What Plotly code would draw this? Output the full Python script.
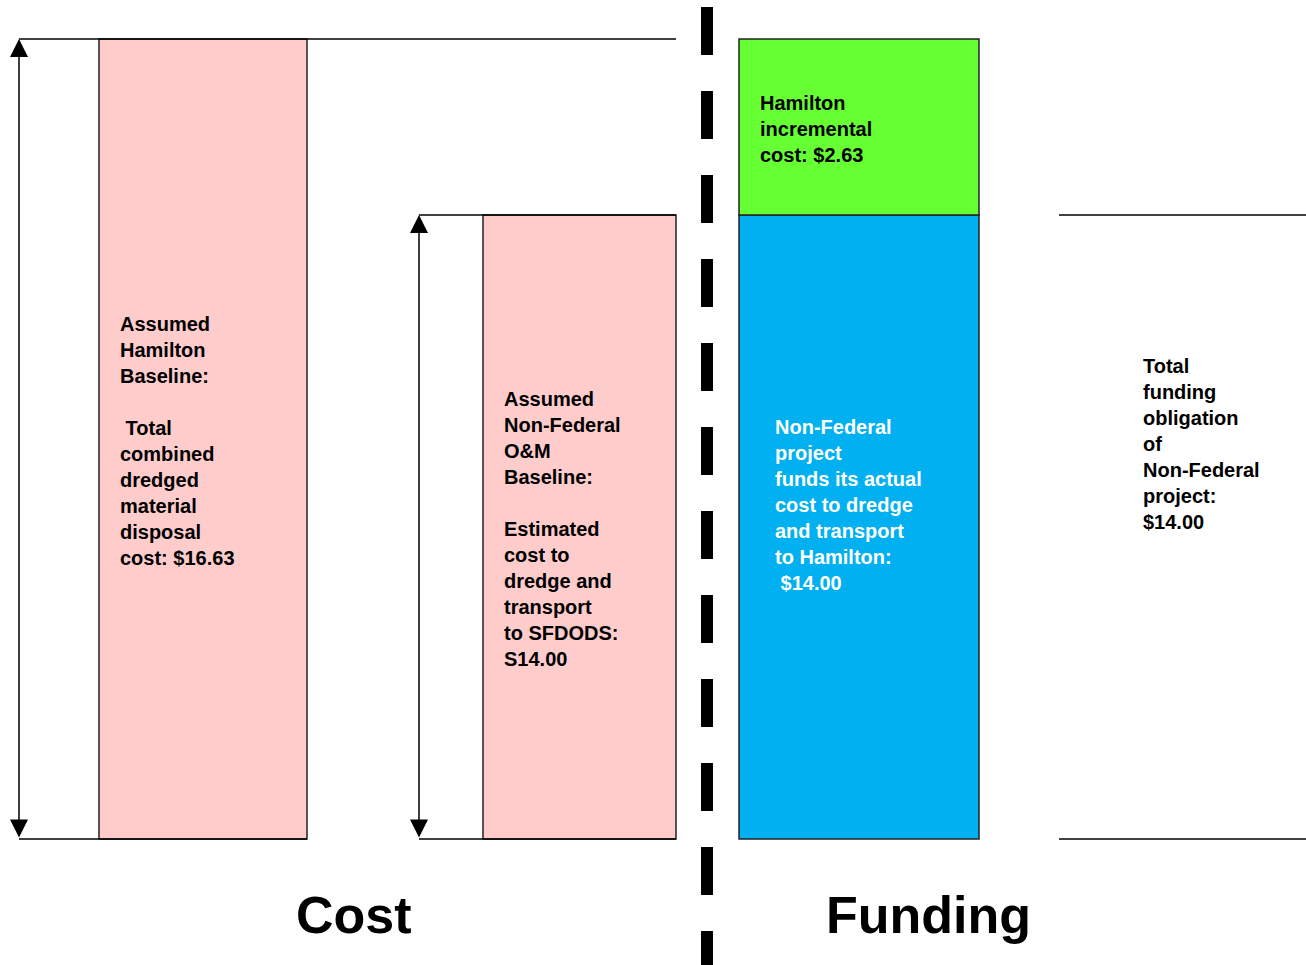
import plotly.graph_objects as go

# ---------------- data ----------------
cost_categories = ["Assumed Hamilton Baseline", "Assumed Non-Federal O&M Baseline"]
cost_values = [16.63, 14.00]          # dollars, as labelled
cost_heights = [100, 78]              # drawn heights (relative, tallest = 100)

funding_parts = ["Non-Federal project", "Hamilton incremental"]
funding_values = [14.00, 2.63]        # dollars, as labelled
funding_heights = [78, 22]            # drawn heights (stacked)

section_labels = ["Cost", "Funding"]

# ---------------- layout helpers ----------------
W, H = 1306, 965
PX_PER_UNIT = 8.0
BASE_PX = 839.0


def ypx(p):
    """convert a pixel row into y-axis units"""
    return (BASE_PX - p) / PX_PER_UNIT


cost_x = [203, 579.5]
cost_w = [208, 193]
fund_x = 859
fund_w = 240

PINK = "#FFCCCC"
GREEN = "#66FF33"
BLUE = "#00B0F0"
OUT = "#222222"
FONT = "Liberation Sans, Arial, sans-serif"

fig = go.Figure()

fig.add_trace(go.Bar(
    x=cost_x, y=cost_heights, width=cost_w, base=[0, 0],
    marker=dict(color=PINK, line=dict(color=OUT, width=1.5)),
    name="Cost", hoverinfo="skip",
))
fig.add_trace(go.Bar(
    x=[fund_x], y=[funding_heights[0]], width=[fund_w], base=[0],
    marker=dict(color=BLUE, line=dict(color=OUT, width=1.5)),
    name=funding_parts[0], hoverinfo="skip",
))
fig.add_trace(go.Bar(
    x=[fund_x], y=[funding_heights[1]], width=[fund_w], base=[funding_heights[0]],
    marker=dict(color=GREEN, line=dict(color=OUT, width=1.5)),
    name=funding_parts[1], hoverinfo="skip",
))

shapes = []
lw = 1.6
# reference lines
shapes.append(dict(type="line", xref="x", yref="y", x0=19, x1=676,
                   y0=cost_heights[0], y1=cost_heights[0], line=dict(color="black", width=lw)))
shapes.append(dict(type="line", xref="x", yref="y", x0=19, x1=cost_x[0] + cost_w[0] / 2,
                   y0=0, y1=0, line=dict(color="black", width=lw)))
shapes.append(dict(type="line", xref="x", yref="y", x0=419, x1=676,
                   y0=0, y1=0, line=dict(color="black", width=lw)))
shapes.append(dict(type="line", xref="x", yref="y", x0=419, x1=676,
                   y0=cost_heights[1], y1=cost_heights[1], line=dict(color="black", width=lw)))
shapes.append(dict(type="line", xref="x", yref="y", x0=1059, x1=1306,
                   y0=funding_heights[0], y1=funding_heights[0], line=dict(color="black", width=lw)))
shapes.append(dict(type="line", xref="x", yref="y", x0=1059, x1=1306,
                   y0=0, y1=0, line=dict(color="black", width=lw)))
# dashed separator
shapes.append(dict(type="line", xref="x", yref="y", x0=707, x1=707,
                   y0=ypx(7), y1=ypx(H), line=dict(color="black", width=12, dash="48px,36px")))

annotations = []
# double-headed arrows
for ax_x, top in [(19, cost_heights[0]), (419, cost_heights[1])]:
    annotations.append(dict(
        x=ax_x, y=top, ax=ax_x, ay=0, xref="x", yref="y", axref="x", ayref="y",
        text="", showarrow=True, arrowside="end+start",
        arrowhead=2, startarrowhead=2, arrowsize=2.4, startarrowsize=2.4,
        arrowwidth=1.5, arrowcolor="black", standoff=0, startstandoff=0,
    ))

NB = "\u00a0"
body_font = dict(family=FONT, size=20, color="black", weight="bold")

texts = [
    (118, ypx(440.5),
     "Assumed<br>Hamilton<br>Baseline:<br><br>" + NB + "Total<br>combined<br>dredged<br>material<br>disposal<br>"
     f"cost: ${cost_values[0]:.2f}", "black"),
    (502, ypx(528.5),
     "Assumed<br>Non-Federal<br>O&M<br>Baseline:<br><br>Estimated<br>cost to<br>dredge and<br>transport<br>"
     f"to SFDODS:<br>S{cost_values[1]:.2f}", "black"),
    (758, ypx(128.5),
     f"Hamilton<br>incremental<br>cost: ${funding_values[1]:.2f}", "black"),
    (773, ypx(504.5),
     "Non-Federal<br>project<br>funds its actual<br>cost to dredge<br>and transport<br>to Hamilton:<br>"
     + NB + f"${funding_values[0]:.2f}", "white"),
    (1141, ypx(444),
     "Total<br>funding<br>obligation<br>of<br>Non-Federal<br>project:<br>"
     f"${funding_values[0]:.2f}", "black"),
]
for x, y, t, c in texts:
    f = dict(body_font)
    f["color"] = c
    annotations.append(dict(x=x, y=y, xref="x", yref="y", text=t, showarrow=False,
                            xanchor="left", yanchor="middle", align="left", font=f))

for x, lab in zip([354, 928], section_labels):
    annotations.append(dict(x=x, y=ypx(915), xref="x", yref="y", text=lab, showarrow=False,
                            xanchor="center", yanchor="middle",
                            font=dict(family=FONT, size=52, color="black", weight="bold")))

fig.update_layout(
    width=W, height=H,
    margin=dict(l=0, r=0, t=0, b=0, pad=0),
    paper_bgcolor="white", plot_bgcolor="white",
    barmode="overlay", showlegend=False,
    xaxis=dict(range=[0, W], visible=False, fixedrange=True),
    yaxis=dict(range=[ypx(H), ypx(0)], visible=False, fixedrange=True),
    shapes=shapes, annotations=annotations,
)

fig.write_html("out.html", config={"displayModeBar": False},
               post_script="document.body.style.margin='0';document.body.style.overflow='hidden';")
